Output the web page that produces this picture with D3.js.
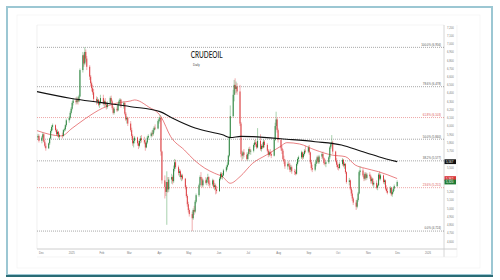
<!DOCTYPE html>
<html><head><meta charset="utf-8">
<script src="https://cdn.jsdelivr.net/npm/d3@7/dist/d3.min.js"></script>
<style>body{margin:0;background:#fff}svg{display:block}</style>
</head><body>
<svg id="c" width="500" height="280"></svg>
<script>
// ---- DATA: daily candles [open, high, low, close], one small array per month ----
const nov24 = [[5860,5905,5830,5880],[5880,5900,5800,5820]];
const dec24 = [[5820,5880,5790,5860],[5860,5920,5840,5900],[5900,5910,5800,5810],[5810,5830,5740,5760],[5760,5790,5700,5730],
 [5730,5800,5720,5790],[5790,5860,5770,5850],[5850,5960,5840,5940],[5940,6010,5920,5990],[5990,6030,5950,6010],
 [6010,6020,5930,5950],[5950,5970,5880,5900],[5900,5960,5870,5930],[5930,5940,5850,5870],[5870,5910,5830,5890],
 [5890,5920,5850,5880],[5880,5960,5870,5950],[5950,5980,5930,5960],[5960,6020,5940,6010],[6010,6090,5990,6070],
 [6070,6120,6040,6100],[6100,6180,6080,6160]];
const jan25 = [[6160,6230,6140,6210],[6210,6300,6190,6280],[6280,6340,6250,6310],[6310,6350,6260,6290],[6290,6360,6270,6330],
 [6330,6350,6260,6300],[6300,6380,6290,6360],[6360,6700,6350,6680],[6680,6900,6650,6860],[6860,6880,6720,6760],
 [6760,6957,6740,6900],[6900,6930,6780,6820],[6820,6850,6680,6720],[6720,6740,6560,6600],[6600,6620,6480,6520],
 [6520,6540,6420,6460],[6460,6500,6380,6410],[6410,6450,6300,6330],[6330,6360,6260,6300],[6300,6350,6270,6320],
 [6320,6330,6240,6260],[6260,6310,6220,6280],[6280,6380,6260,6340]];
const feb25 = [[6340,6380,6250,6270],[6270,6320,6230,6300],[6300,6340,6250,6260],[6260,6290,6200,6230],[6230,6300,6210,6280],
 [6280,6360,6270,6340],[6340,6370,6280,6300],[6300,6320,6200,6220],[6220,6240,6140,6160],[6160,6230,6140,6210],
 [6210,6240,6170,6190],[6190,6280,6180,6260],[6260,6320,6240,6300],[6300,6340,6270,6320],[6320,6330,6220,6240],
 [6240,6300,6210,6280],[6280,6290,6130,6150],[6150,6170,6060,6080],[6080,6120,6030,6100],[6100,6110,6000,6030]];
const mar25 = [[6030,6060,5930,5950],[5950,5980,5850,5880],[5880,5900,5760,5790],[5790,5850,5740,5820],[5820,5880,5790,5860],
 [5860,5870,5760,5790],[5790,5820,5720,5760],[5760,5840,5740,5820],[5820,5880,5790,5850],[5850,5890,5800,5830],
 [5830,5870,5780,5800],[5800,5830,5700,5740],[5740,5820,5730,5800],[5800,5880,5780,5860],[5860,5900,5830,5880],
 [5880,5930,5860,5910],[5910,5950,5870,5900],[5900,5970,5880,5950],[5950,6000,5920,5980],[5980,6020,5950,5970],
 [5970,6080,5960,6060]];
const apr25 = [[6060,6110,6030,6080],[6080,6130,6050,6100],[6100,6110,5640,5690],[5690,5700,5300,5340],[5340,5400,5120,5260],
 [5260,5320,5150,5200],[5200,5450,4800,5320],[5320,5380,5190,5230],[5230,5380,5200,5350],[5350,5420,5300,5380],
 [5380,5400,5290,5330],[5330,5520,5310,5480],[5480,5600,5450,5560],[5560,5590,5480,5500],[5500,5520,5400,5430],
 [5430,5480,5380,5450],[5450,5470,5350,5380],[5380,5420,5330,5400],[5400,5420,5340,5360],[5360,5370,5230,5260],
 [5260,5280,5130,5150],[5150,5170,5020,5050]];
const may25 = [[5050,5080,4950,4980],[4980,5000,4900,4930],[4930,4960,4724,4880],[4880,5000,4860,4980],[4980,5030,4920,4960],
 [4960,5100,4940,5080],[5080,5180,5060,5160],[5160,5300,5140,5280],[5280,5400,5260,5380],[5380,5440,5340,5360],
 [5360,5380,5250,5280],[5280,5360,5260,5340],[5340,5380,5290,5310],[5310,5370,5280,5350],[5350,5420,5320,5380],
 [5380,5390,5270,5300],[5300,5340,5250,5290],[5290,5360,5270,5340],[5340,5350,5240,5260],[5260,5310,5220,5280],
 [5280,5300,5170,5230],[5230,5270,5180,5210]];
const jun25 = [[5210,5380,5200,5360],[5360,5440,5340,5420],[5420,5440,5360,5380],[5380,5430,5350,5400],[5400,5480,5390,5460],
 [5460,5520,5440,5500],[5500,5560,5470,5530],[5530,5650,5520,5640],[5640,5880,5620,5860],[5860,6250,5840,6120],
 [6120,6440,6100,6380],[6380,6560,6300,6500],[6500,6580,6380,6450],[6450,6540,6400,6480],[6480,6520,6380,6420],
 [6420,6500,6000,6030],[6030,6050,5620,5660],[5660,5700,5580,5640],[5640,5700,5600,5680],[5680,5720,5620,5650],
 [5650,5680,5580,5600]];
const jul25 = [[5600,5680,5580,5660],[5660,5740,5640,5720],[5720,5750,5660,5690],[5690,5720,5650,5700],[5700,5790,5680,5770],
 [5770,5830,5740,5800],[5800,5840,5750,5780],[5780,5810,5720,5740],[5740,5975,5730,5820],[5820,5900,5700,5720],
 [5720,5780,5690,5760],[5760,5800,5720,5740],[5740,5840,5730,5810],[5810,5830,5740,5770],[5770,5790,5680,5700],
 [5700,5720,5620,5650],[5650,5700,5630,5680],[5680,5720,5640,5660],[5660,5690,5610,5640],[5640,5860,5630,5830],
 [5830,6040,5820,6000],[6000,6174,5960,6080],[6080,6100,5920,5950]];
const aug25 = [[5950,5970,5800,5830],[5830,5850,5700,5730],[5730,5760,5660,5700],[5700,5720,5580,5600],[5600,5640,5540,5570],
 [5570,5600,5480,5510],[5510,5560,5470,5540],[5540,5580,5500,5520],[5520,5550,5440,5470],[5470,5530,5440,5500],
 [5500,5520,5420,5450],[5450,5480,5405,5440],[5440,5470,5400,5420],[5420,5560,5410,5540],[5540,5620,5520,5600],
 [5600,5640,5560,5620],[5620,5700,5600,5680],[5680,5690,5590,5620],[5620,5680,5600,5660],[5660,5720,5640,5700],
 [5700,5760,5670,5690]];
const sep25 = [[5690,5760,5670,5740],[5740,5770,5650,5680],[5680,5690,5540,5560],[5560,5590,5460,5490],[5490,5530,5440,5470],
 [5470,5560,5450,5540],[5540,5600,5510,5580],[5580,5640,5550,5620],[5620,5640,5540,5560],[5560,5650,5540,5630],
 [5630,5680,5600,5660],[5660,5690,5590,5610],[5610,5620,5530,5550],[5550,5600,5520,5540],[5540,5580,5500,5560],
 [5560,5640,5540,5620],[5620,5760,5600,5740],[5740,5800,5720,5780],[5780,5890,5760,5800],[5800,5820,5660,5690],
 [5690,5700,5560,5580],[5580,5610,5500,5530]];
const oct25 = [[5530,5560,5470,5500],[5500,5540,5460,5490],[5490,5560,5480,5540],[5540,5610,5520,5590],[5590,5600,5500,5520],
 [5520,5560,5480,5540],[5540,5550,5420,5440],[5440,5450,5300,5320],[5320,5370,5280,5340],[5340,5350,5220,5240],
 [5240,5260,5150,5180],[5180,5220,5090,5120],[5120,5140,5040,5070],[5070,5100,4980,5020],[5020,5120,5000,5100],
 [5100,5200,5080,5180],[5180,5460,5170,5440],[5440,5510,5400,5460],[5460,5490,5380,5400],[5400,5420,5330,5360],
 [5360,5440,5340,5420],[5420,5440,5340,5370],[5370,5430,5350,5410]];
const nov25 = [[5410,5440,5360,5390],[5390,5410,5300,5330],[5330,5380,5300,5360],[5360,5370,5270,5290],[5290,5330,5250,5310],
 [5310,5340,5230,5250],[5250,5300,5220,5280],[5280,5430,5270,5410],[5410,5450,5340,5360],[5360,5420,5340,5400],
 [5400,5410,5300,5320],[5320,5360,5290,5340],[5340,5350,5220,5240],[5240,5280,5190,5210],[5210,5250,5170,5190],
 [5190,5270,5180,5250],[5250,5260,5150,5170],[5170,5220,5140,5200],[5200,5260,5180,5240],[5240,5290,5210,5270]];
const dec25 = [[5270,5340,5260,5320]];
const monthStarts = ["2024-11-28","2024-12-01","2025-01-01","2025-02-01","2025-03-01","2025-04-01","2025-05-01",
 "2025-06-01","2025-07-01","2025-08-01","2025-09-01","2025-10-01","2025-11-01","2025-12-01"];
const monthRows = [nov24,dec24,jan25,feb25,mar25,apr25,may25,jun25,jul25,aug25,sep25,oct25,nov25,dec25];

// moving averages
const sma200 = [["2024-11-27",6418],["2024-12-31",6337],["2025-02-01",6284],["2025-03-03",6235],["2025-04-02",6175],
 ["2025-04-14",6100],["2025-05-08",5975],["2025-06-06",5890],["2025-06-13",5860],["2025-06-24",5875],["2025-07-06",5871],
 ["2025-08-10",5840],["2025-09-08",5810],["2025-10-05",5770],["2025-10-26",5690],["2025-11-12",5628],["2025-12-01",5567]];
const sma50 = [["2024-11-27",5944],["2024-12-22",5880],["2025-01-02",5973],["2025-01-16",6094],["2025-02-02",6216],
 ["2025-02-16",6277],["2025-03-03",6305],["2025-03-07",6317],["2025-03-21",6235],["2025-04-03",6114],["2025-04-13",5871],
 ["2025-04-27",5709],["2025-05-07",5588],["2025-05-18",5487],["2025-05-28",5426],["2025-06-05",5385],["2025-06-13",5305],
 ["2025-06-23",5385],["2025-07-06",5548],["2025-07-20",5648],["2025-08-03",5749],["2025-08-10",5798],["2025-08-23",5782],
 ["2025-09-08",5709],["2025-09-25",5648],["2025-10-09",5628],["2025-10-19",5527],["2025-10-29",5487],["2025-11-12",5445],
 ["2025-12-01",5362]];

// Fibonacci retracement levels
const fibNames  = ["100.0%","78.6%","61.8%","50.0%","38.2%","23.6%","0.0%"];
const fibPrices = [6956,6478,6103,5840,5577,5251,4724];
const fibRed    = [false,false,true,false,false,true,false];

const yTicks = d3.range(4600, 7201, 100);
const title = "CRUDEOIL", subtitle = "Daily";
const lastTags = [{v:5567, fill:"#111111"},{v:5362, fill:"#d9363a"},{v:5320, fill:"#1f7a33"}];

// ---- BUILD ----
const parse = d3.timeParse("%Y-%m-%d");
const candles = [];
monthStarts.forEach((s, i) => {
  let d = parse(s);
  monthRows[i].forEach(r => {
    while (d.getDay() === 0 || d.getDay() === 6) d = d3.timeDay.offset(d, 1);
    candles.push({date: d, o: r[0], h: r[1], l: r[2], c: r[3]});
    d = d3.timeDay.offset(d, 1);
  });
});

const svg = d3.select("#c");
const L = 37, R = 444, T = 25, B = 249;
const x = d3.scaleTime().domain([new Date(2024,10,27), new Date(2026,0,18)]).range([L, R]);
const y = d3.scaleLinear().domain([4500, 7230]).range([249.5, 24.8]);

// frame
svg.append("rect").attr("x",7).attr("y",7).attr("width",485).attr("height",268)
  .attr("fill","#fff").attr("stroke","#9cc7d3").attr("stroke-width",2);
svg.append("line").attr("x1",6).attr("x2",493).attr("y1",276).attr("y2",276)
  .attr("stroke","#2a6c76").attr("stroke-width",2);
svg.append("rect").attr("x",17).attr("y",15).attr("width",463).attr("height",253)
  .attr("fill","none").attr("stroke","#f1f1f1").attr("stroke-width",0.6);

// plot frame lines
const g = svg.append("g");
g.append("line").attr("x1",L).attr("x2",R).attr("y1",T).attr("y2",T).attr("stroke","#eeeeee").attr("stroke-width",0.6);
g.append("line").attr("x1",L).attr("x2",L).attr("y1",T).attr("y2",B).attr("stroke","#e6e6e6").attr("stroke-width",0.6);
g.append("line").attr("x1",L).attr("x2",457).attr("y1",B).attr("y2",B).attr("stroke","#c8c8c8").attr("stroke-width",0.9);
g.append("line").attr("x1",R).attr("x2",R).attr("y1",T).attr("y2",257).attr("stroke","#cccccc").attr("stroke-width",0.8);
g.append("line").attr("x1",457).attr("x2",457).attr("y1",T).attr("y2",257).attr("stroke","#ececec").attr("stroke-width",0.6);
g.append("line").attr("x1",L).attr("x2",457).attr("y1",257).attr("y2",257).attr("stroke","#ececec").attr("stroke-width",0.6);

// fib lines
fibPrices.forEach((p, i) => {
  const col = fibRed[i] ? "#e06a6a" : "#6f6f6f";
  g.append("line").attr("x1",L).attr("x2",R).attr("y1",y(p)).attr("y2",y(p))
    .attr("stroke",col).attr("stroke-width",0.6).attr("stroke-dasharray","1,1");
  g.append("text").attr("x",R-3).attr("y",y(p)-1.6).attr("text-anchor","end")
    .attr("font-family","Liberation Sans, Arial, sans-serif").attr("font-size",2.9)
    .attr("fill",fibRed[i] ? "#e05555" : "#555")
    .text(fibNames[i] + " (" + d3.format(",")(p) + ")");
});

// title
svg.append("text").attr("x",190.7).attr("y",58.3).attr("font-family","Lato, 'Open Sans', sans-serif")
  .attr("font-size",9).attr("font-weight",500).attr("fill","#1b1b1b")
  .attr("textLength",32).attr("lengthAdjust","spacingAndGlyphs").text(title);
svg.append("text").attr("x",193).attr("y",65.5).attr("font-family","Liberation Sans, Arial, sans-serif")
  .attr("font-size",3).attr("fill","#444").text(subtitle);

// moving averages
const line = d3.line().x(d => x(parse(d[0]))).y(d => y(d[1])).curve(d3.curveMonotoneX);
g.append("path").attr("d", line(sma50)).attr("fill","none").attr("stroke","#e04a4d").attr("stroke-width",0.7);

// candles
const cg = g.append("g");
cg.selectAll("line.w").data(candles).join("line").attr("class","w")
  .attr("x1", d => x(d.date)).attr("x2", d => x(d.date))
  .attr("y1", d => y(d.h)).attr("y2", d => y(d.l))
  .attr("stroke", d => d.c >= d.o ? "#3f9a4c" : "#e0494b").attr("stroke-width",0.45);
cg.selectAll("rect.b").data(candles).join("rect").attr("class","b")
  .attr("x", d => x(d.date) - 0.45).attr("width", 0.9)
  .attr("y", d => y(Math.max(d.o, d.c)))
  .attr("height", d => Math.max(0.5, Math.abs(y(d.o) - y(d.c))))
  .attr("fill", d => d.c >= d.o ? "#1f7a33" : "#d9363a");

g.append("path").attr("d", line(sma200)).attr("fill","none").attr("stroke","#111").attr("stroke-width",1.1);

// axes
const xAxis = d3.axisBottom(x)
  .tickValues(d3.timeMonths(new Date(2024,11,1), new Date(2026,0,2)))
  .tickFormat(d => d.getMonth() === 0 ? d3.timeFormat("%Y")(d) : d3.timeFormat("%b")(d))
  .tickSize(0).tickPadding(3);
const xa = svg.append("g").attr("transform", `translate(0,${B})`).call(xAxis);
xa.select(".domain").remove();
xa.selectAll("text").attr("font-family","Liberation Sans, Arial, sans-serif").attr("font-size",2.7).attr("fill","#777");

// y tick labels hidden by the last-value tags are not drawn (as in the reference)
const visibleTicks = yTicks.filter(v => lastTags.every(t => Math.abs(y(v) - y(t.v)) > 3.6));
const yAxis = d3.axisRight(y).tickValues(visibleTicks).tickFormat(d3.format(",")).tickSize(0).tickPadding(3);
const ya = svg.append("g").attr("transform", `translate(${R},0)`).call(yAxis);
ya.select(".domain").remove();
ya.selectAll("text").attr("font-family","Liberation Sans, Arial, sans-serif").attr("font-size",2.7).attr("fill","#777");

// last value tags
lastTags.forEach(t => {
  svg.append("rect").attr("x",R+0.5).attr("y",y(t.v)-2.4).attr("width",11.5).attr("height",4.8).attr("fill",t.fill);
  svg.append("text").attr("x",R+2).attr("y",y(t.v)+1).attr("font-family","Liberation Sans, Arial, sans-serif")
    .attr("font-size",2.9).attr("fill","#fff").text(d3.format(",")(t.v));
});
</script>
</body></html>
